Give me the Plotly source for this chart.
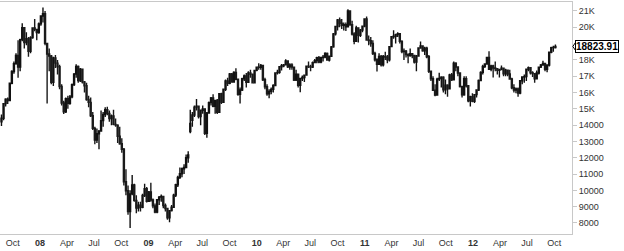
import pandas as pd
import plotly.graph_objects as go

# Weekly bars (week ending Friday), 2007-08-24 .. 2012-10-05
start_week = "2007-08-24"

opens = [
    14200, 14420, 15319, 15590, 15504, 16564, 17291, 17773, 18280, 17560, 19243, 19977, 19059, 19298, 18526, 19363, 19966, 19871, 19672,
    20206, 20687, 20827, 19014, 18362, 18242, 16631, 18115, 17801, 17578, 16371, 15357, 14810, 15626, 15343, 15732, 16481, 17126, 17600, 16738, 17434, 16650,
    16415, 15572, 15395, 14571, 13802, 13093, 13469, 13635, 14274, 14656, 14942, 14721, 14402, 14564, 14048, 14000, 13315, 12860, 12526, 10527, 9975, 8701,
    9788, 10332, 9385, 8915, 9092, 8965, 9690, 10100,
    9328, 9903, 9406, 9047, 8674, 9424, 9584, 9634, 9075, 8892, 8325, 8756, 8966, 9708, 10349, 10800, 11023, 11329, 11403, 12002, 13600,
    14302, 14625, 15103, 15161, 14522, 14915, 14999, 13504, 14744, 15379, 15670, 15160, 15518, 14784, 15922, 15405, 16196, 16712, 16572, 17134,
    16643, 17231, 16810, 15896, 16158, 16848, 17021, 16632, 17198, 17119, 16601,
    17360, 17558, 17540, 17655, 16781, 16358, 15916, 16069, 16190, 16430, 17202, 17233, 17578, 17644, 17693, 17933, 17577, 17694, 17559, 16769, 17123, 16446,
    16864, 16922, 17065, 17615, 17575, 17558, 17834, 17955, 18131, 17868, 18144, 18167, 18401, 17998, 18221, 18799, 19595, 20045, 20445, 20250, 20125, 20165,
    20032, 21004, 20157, 19585, 19137, 19966, 19509, 19827, 20073,
    20509, 19224, 19183, 19008, 18396, 18008, 17728, 18211, 17700, 18219, 18174, 18000, 18816, 19420, 19452, 19551, 19602, 19136, 18519, 18531, 18326,
    18266, 18377, 18268, 17870, 18240, 18727, 18858, 18561, 18722, 18197, 17305, 16840, 16142, 15848, 16822, 16867, 16933, 16162, 16454, 16232, 17082,
    16785, 17804, 17563, 17193, 16372, 15858, 16847, 16417, 15491, 15738,
    15455, 15868, 16155, 16739, 17234, 17605, 17749, 18154, 17424, 17636, 17503, 17467, 17362, 17404, 17486, 17150, 17373, 17134, 16831, 16292, 16153,
    16218, 15966, 16719, 16950, 16972, 17430, 17521, 17213, 17158, 16839, 17198, 17557, 17691, 17783, 17429, 17683, 18465, 18752, 18762,
]
highs = [
    14650, 15360, 15650, 15700, 16600, 17360, 17900, 18400, 19200, 19300, 20240, 20000, 19700, 19400, 19450, 20000, 20500, 19900, 20300,
    20700, 21206, 21000, 19050, 18700, 18300, 18200, 18300, 18000, 17700, 16500, 15500, 15700, 15800, 15850, 16550, 17200, 17735, 17650, 17500, 17450,
    16700, 16600, 15800, 15700, 14800, 13900, 13800, 13700, 14900, 14800, 15100, 15130, 14900, 14650, 14950, 14400, 14050, 13900, 13200, 12600, 11300, 10300,
    10000, 10950, 10400, 9700, 9300, 9300, 9800, 10400, 10200,
    9960, 10470, 9500, 9200, 9450, 9650, 9750, 9650, 9200, 8900, 8800, 9100, 9800, 10400, 10900, 11400, 11400, 11600, 12200, 12400, 14950,
    14800, 15200, 15600, 15200, 14950, 15200, 15000, 14800, 15450, 15730, 15900, 15550, 15600, 15950, 15980, 16250, 16800, 16900, 17200, 17200,
    17300, 17493, 16850, 16300, 16900, 17100, 17200, 17300, 17400, 17150, 17400,
    17600, 17790, 17750, 17700, 16900, 16500, 16200, 16300, 16500, 17250, 17400, 17600, 17750, 17750, 18047, 17950, 17800, 17800, 17600, 17400, 17150,
    16900, 17050, 17100, 17650, 17900, 17700, 17900, 18050, 18200, 18237, 18200, 18300, 18475, 18450, 18250, 18850, 19650, 20100, 20500, 20600, 20500,
    20300, 20300, 21108, 21050, 20400, 19700, 20100, 20000, 19900, 20100, 20552,
    20664, 19500, 19400, 19200, 18500, 18100, 18400, 18300, 18300, 18500, 18300, 18850, 19450, 19811, 19600, 19700, 19650, 19200, 18700, 18600, 18400,
    18700, 18400, 18300, 18300, 18760, 19131, 18900, 18800, 18800, 18300, 17350, 17000, 16500, 16900, 17212, 17000, 17000, 16800, 16500, 17150,
    17200, 17908, 17850, 17600, 17200, 16400, 17000, 17000, 16450, 15800, 15950,
    15900, 16200, 16800, 17300, 17700, 17800, 18200, 18523, 17700, 17700, 17900, 17500, 17450, 17660, 17500, 17450, 17400, 17400, 16900, 16500, 16300,
    16300, 16750, 17000, 17100, 17450, 17600, 17550, 17300, 17200, 17350, 17600, 17750, 17950, 17800, 17700, 18500, 18800, 18870, 18950,
]
lows = [
    13950, 14300, 15150, 15300, 15480, 16500, 17150, 17700, 16900, 17300, 19150, 18700, 18900, 18200, 18400, 19300, 19750, 19200, 19600,
    20100, 20300, 18900, 15332, 17300, 16500, 16400, 17500, 17100, 16200, 15200, 14677, 14750, 15000, 15250, 15650, 16400, 16900, 16600, 16650, 16550,
    16000, 15500, 15100, 14500, 13700, 12822, 12900, 12514, 13600, 13900, 14500, 14600, 14200, 14000, 14000, 13900, 12900, 12800, 12300, 10300, 9700, 8500,
    7697, 9700, 9300, 8600, 8700, 8700, 8900, 9600, 9250,
    9300, 9300, 8900, 8600, 8600, 9100, 9300, 8900, 8700, 8200, 8047, 8700, 8950, 9600, 10200, 10700, 10800, 11000, 11400, 11700, 13500,
    13900, 14500, 14900, 14400, 14000, 14700, 13400, 13219, 14700, 15200, 15100, 14700, 14684, 14750, 15300, 15350, 16100, 16400, 16500, 16600,
    16600, 16750, 15800, 15330, 16100, 16700, 16300, 16600, 16900, 16550, 16580,
    17300, 17400, 17400, 16700, 16200, 15800, 15651, 15900, 16000, 16400, 17100, 17150, 17350, 17550, 17650, 17500, 17400, 17400, 16700, 16700, 16300,
    16022, 16700, 16650, 17050, 17500, 17300, 17500, 17800, 17800, 17800, 17800, 17900, 18100, 17950, 17900, 18200, 18750, 19500, 19800, 20000, 19900,
    19800, 19768, 20000, 20100, 19500, 18954, 19100, 19074, 19400, 19700, 20000,
    19200, 18900, 18800, 18300, 17900, 17296, 17700, 17600, 17600, 18000, 17800, 17900, 18800, 19300, 19000, 19400, 19000, 18400, 18000, 18150, 17800,
    18200, 18100, 17786, 17300, 18200, 18700, 18500, 18300, 18100, 17200, 16700, 16100, 15765, 15800, 16700, 16300, 16000, 15900, 15745, 16200,
    16700, 16750, 17300, 17000, 16300, 15700, 15800, 16300, 15400, 15135, 15400,
    15358, 15700, 16100, 16700, 17100, 17500, 17700, 17400, 17300, 16920, 17300, 17100, 16920, 17400, 17000, 17000, 17000, 16800, 16200, 16000, 15950,
    15748, 15900, 16500, 16600, 16700, 17300, 17100, 16950, 16600, 16800, 17100, 17500, 17650, 17300, 17250, 17600, 18400, 18500, 18700,
]
closes = [
    14420, 15319, 15590, 15504, 16564, 17291, 17773, 18280, 17560, 19243, 19977, 19059, 19298, 18526, 19363, 19966, 19871, 19672, 20206,
    20687, 20827, 19014, 18362, 18242, 16631, 18115, 17801, 17578, 16371, 15357, 14810, 15626, 15343, 15732, 16481, 17126, 17600, 16738, 17434, 16650,
    16415, 15572, 15395, 14571, 13802, 13093, 13469, 13635, 14274, 14656, 14942, 14721, 14402, 14564, 14048, 14000, 13315, 12860, 12526, 10527, 9975, 8701,
    9788, 10332, 9385, 8915, 9092, 8965, 9690, 10100, 9328,
    9903, 9406, 9047, 8674, 9424, 9584, 9634, 9075, 8892, 8325, 8756, 8966, 9708, 10349, 10800, 11023, 11329, 11403, 12002, 12173, 14100,
    14625, 15103, 15161, 14522, 14915, 14999, 13504, 14744, 15379, 15670, 15160, 15518, 14784, 15922, 15405, 16196, 16712, 16572, 17134, 16643,
    17231, 16810, 15896, 16158, 16848, 17021, 16632, 17198, 17119, 16601, 17360,
    17558, 17540, 17655, 16781, 16358, 15916, 16069, 16190, 16430, 17202, 17233, 17578, 17644, 17693, 17933, 17577, 17694, 17559, 16769, 17123, 16446,
    16864, 16922, 17065, 17615, 17575, 17558, 17834, 17955, 18131, 17868, 18144, 18167, 18401, 17998, 18221, 18799, 19595, 20045, 20445, 20250, 20125,
    20165, 20032, 21004, 20157, 19585, 19137, 19966, 19509, 19827, 20073, 20509,
    19224, 19183, 19008, 18396, 18008, 17728, 18211, 17700, 18219, 18174, 18000, 18816, 19420, 19452, 19551, 19602, 19136, 18519, 18531, 18326, 18266,
    18377, 18268, 17870, 18240, 18727, 18858, 18561, 18722, 18197, 17305, 16840, 16142, 15848, 16822, 16867, 16933, 16162, 16454, 16232, 17082, 16785,
    17804, 17563, 17193, 16372, 15858, 16847, 16417, 15491, 15738, 15455,
    15868, 16155, 16739, 17234, 17605, 17749, 18154, 17424, 17636, 17503, 17467, 17362, 17404, 17486, 17150, 17373, 17134, 16831, 16292, 16153, 16218,
    15966, 16719, 16950, 16972, 17430, 17521, 17213, 17158, 16839, 17198, 17557, 17691, 17783, 17429, 17683, 18465, 18752, 18762, 18823.91,
]

dates = pd.date_range(start_week, periods=len(closes), freq="W-FRI")

x_tick_dates = ["2007-10-01", "2008-01-01", "2008-04-01", "2008-07-01", "2008-10-01",
                "2009-01-01", "2009-04-01", "2009-07-01", "2009-10-01",
                "2010-01-01", "2010-04-01", "2010-07-01", "2010-10-01",
                "2011-01-01", "2011-04-01", "2011-07-01", "2011-10-01",
                "2012-01-01", "2012-04-01", "2012-07-01", "2012-10-01"]
x_tick_text = ["Oct", "<b>08</b>", "Apr", "Jul", "Oct", "<b>09</b>", "Apr", "Jul", "Oct",
               "<b>10</b>", "Apr", "Jul", "Oct", "<b>11</b>", "Apr", "Jul", "Oct",
               "<b>12</b>", "Apr", "Jul", "Oct"]
# 19K is covered by the last-price label in the reference, so it is not shown
y_tick_vals = [8000, 9000, 10000, 11000, 12000, 13000, 14000, 15000, 16000, 17000, 18000, 20000, 21000]
y_tick_text = ["8000", "9000", "10000", "11000", "12000", "13000", "14000",
               "15K", "16K", "17K", "18K", "20K", "21K"]
last_price = closes[-1]

fig = go.Figure(go.Candlestick(
    x=dates, open=opens, high=highs, low=lows, close=closes,
    increasing=dict(line=dict(color="#111111", width=1.4), fillcolor="#ffffff"),
    decreasing=dict(line=dict(color="#1a1a1a", width=1.4), fillcolor="#000000"),
    whiskerwidth=0,
    showlegend=False,
))

fig.add_annotation(
    x=1, xref="paper", y=last_price, yref="y",
    text="<b>%.2f</b>" % last_price, showarrow=False,
    xanchor="left", yanchor="middle", xshift=3,
    font=dict(family="Liberation Sans, Arial, sans-serif", size=10, color="#000000"),
    bgcolor="#ffffff", bordercolor="#000000", borderwidth=1, borderpad=0,
)
fig.add_shape(
    type="path", xref="paper", yref="y",
    path="M 1.0075,%f L 1.0015,%f L 1.0075,%f" % (last_price + 320, last_price, last_price - 320),
    line=dict(color="#000000", width=1),
)

fig.update_layout(
    width=624, height=251,
    margin=dict(l=0, r=52, t=2, b=17),
    paper_bgcolor="#ffffff", plot_bgcolor="#ffffff",
    font=dict(family="Liberation Sans, Arial, sans-serif", size=9, color="#333333"),
    xaxis=dict(
        type="date", range=["2007-08-19", "2012-11-30"],
        rangeslider=dict(visible=False),
        tickvals=x_tick_dates, ticktext=x_tick_text, tickangle=0,
        showgrid=False, zeroline=False,
        showline=True, linecolor="#c8c8c8", linewidth=1, mirror=True,
        ticks="", tickfont=dict(size=9, color="#333333"),
    ),
    yaxis=dict(
        side="right", range=[7325, 21550],
        tickvals=y_tick_vals, ticktext=y_tick_text,
        showgrid=False, zeroline=False,
        showline=True, linecolor="#c8c8c8", linewidth=1,
        ticks="outside", ticklen=4, tickcolor="#c8c8c8",
        tickfont=dict(size=9, color="#333333"),
    ),
)

fig.write_html("out.html")
